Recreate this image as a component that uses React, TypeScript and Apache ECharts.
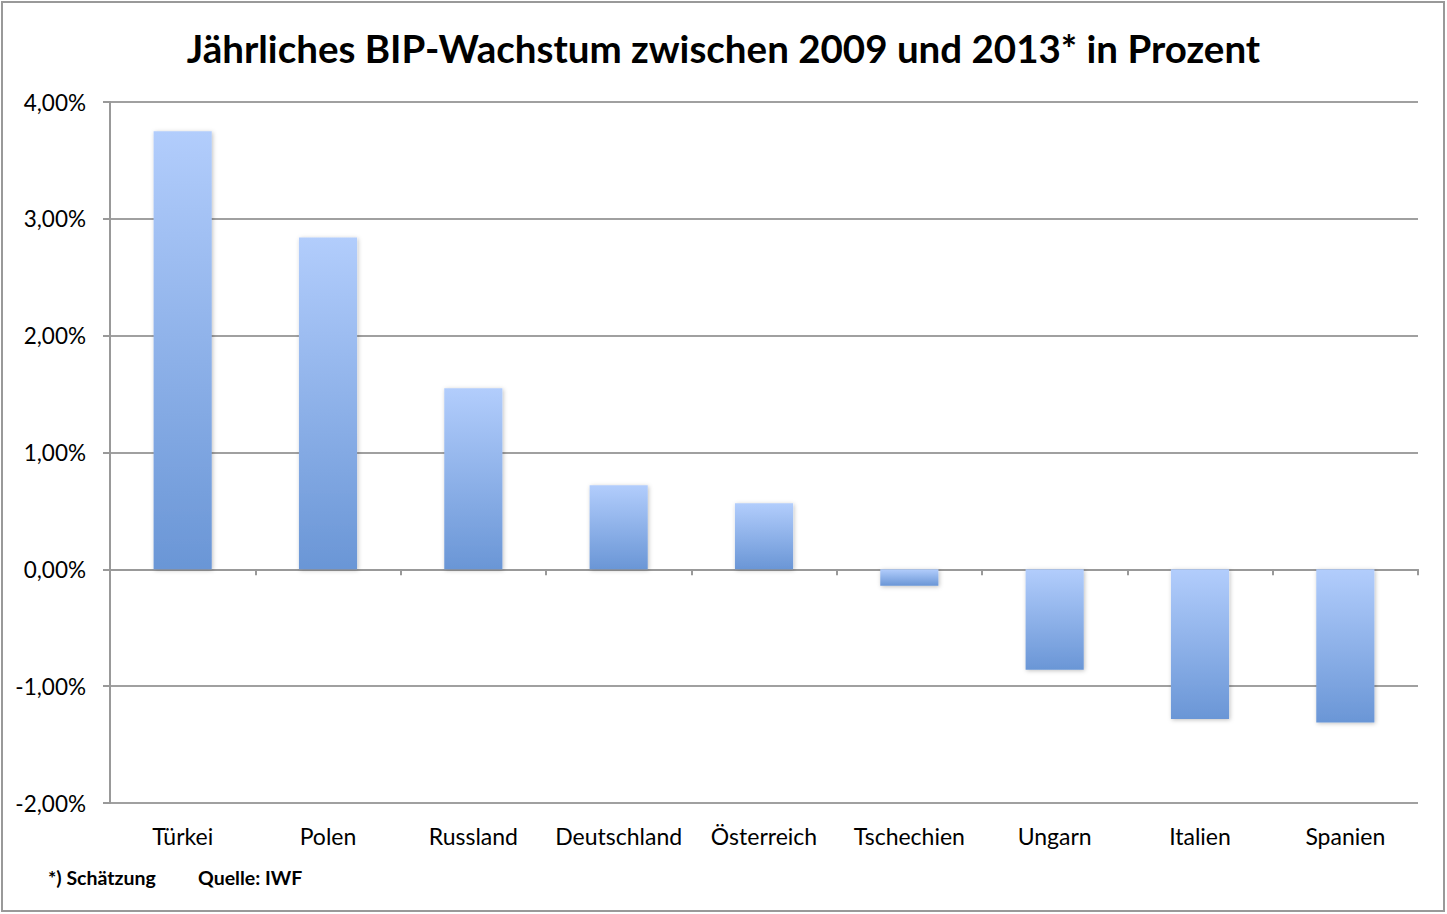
import React, { useEffect, useRef } from "react";
import * as echarts from "echarts";

const TITLE = "Jährliches BIP-Wachstum zwischen 2009 und 2013* in Prozent";
const countries = ["Türkei", "Polen", "Russland", "Deutschland", "Österreich", "Tschechien", "Ungarn", "Italien", "Spanien"];
const growth = [3.75, 2.84, 1.55, 0.72, 0.565, -0.14, -0.86, -1.28, -1.31];
const yTicks = { min: -2, max: 4, interval: 1 };
const footnote = "*) Schätzung";
const source = "Quelle: IWF";

const FONT = "Lato, 'Open Sans', sans-serif";

export default function App() {
  const ref = useRef<HTMLDivElement>(null);
  useEffect(() => {
    if (!ref.current) return;
    const chart = echarts.init(ref.current, null, { renderer: "svg" });
    const grad = new echarts.graphic.LinearGradient(0, 0, 0, 1, [
      { offset: 0, color: "#b2cdfc" },
      { offset: 1, color: "#6a96d6" },
    ]);
    chart.setOption({
      animation: false,
      backgroundColor: "#ffffff",
      title: {
        text: TITLE,
        left: "center",
        top: 23,
        textStyle: { fontFamily: FONT, fontWeight: "bold", fontSize: 38.5, color: "#000" },
      },
      grid: { left: 110, right: 29, top: 102, bottom: 111, containLabel: false },
      xAxis: [
        {
          type: "category",
          data: countries,
          position: "bottom",
          axisLine: { show: false, onZero: false },
          axisTick: { show: false },
          axisLabel: { fontFamily: FONT, fontSize: 23, color: "#000", margin: 21, interval: 0 },
        },
        {
          type: "category",
          data: countries,
          position: "top",
          axisLine: { show: true, onZero: true, lineStyle: { color: "#999", width: 2 } },
          axisTick: { show: true, inside: true, length: 6, lineStyle: { color: "#999", width: 2 } },
          axisLabel: { show: false },
        },
      ],
      yAxis: {
        type: "value",
        min: yTicks.min,
        max: yTicks.max,
        interval: yTicks.interval,
        axisLine: { show: true, lineStyle: { color: "#999", width: 2 } },
        axisTick: { show: true, length: 7, lineStyle: { color: "#999", width: 2 } },
        splitLine: { lineStyle: { color: "#a0a0a0", width: 2 } },
        axisLabel: {
          fontFamily: FONT,
          fontSize: 22.5,
          color: "#000",
          margin: 24,
          formatter: (v: number) => v.toFixed(2).replace(".", ",") + "%",
        },
      },
      series: [
        {
          type: "bar",
          data: growth,
          barWidth: "40%",
          itemStyle: {
            color: grad,
            shadowBlur: 4,
            shadowColor: "rgba(0,0,0,0.25)",
            shadowOffsetY: 1,
            shadowOffsetX: 1,
          },
        },
      ],
      graphic: [
        {
          type: "rect",
          shape: { x: 2, y: 2, width: 1442, height: 909 },
          style: { fill: "none", stroke: "#999", lineWidth: 2 },
          silent: true,
        },
        {
          type: "text",
          x: 48,
          y: 867,
          style: { text: footnote, fontFamily: FONT, fontWeight: "bold", fontSize: 19.5, fill: "#000" },
        },
        {
          type: "text",
          x: 198,
          y: 867,
          style: { text: source, fontFamily: FONT, fontWeight: "bold", fontSize: 19.5, fill: "#000" },
        },
      ],
    });
    return () => chart.dispose();
  }, []);
  return (
    <div style={{ position: "fixed", left: 0, top: 0, width: 1447, height: 914 }}>
      <div ref={ref} style={{ width: 1447, height: 914 }} />
    </div>
  );
}
